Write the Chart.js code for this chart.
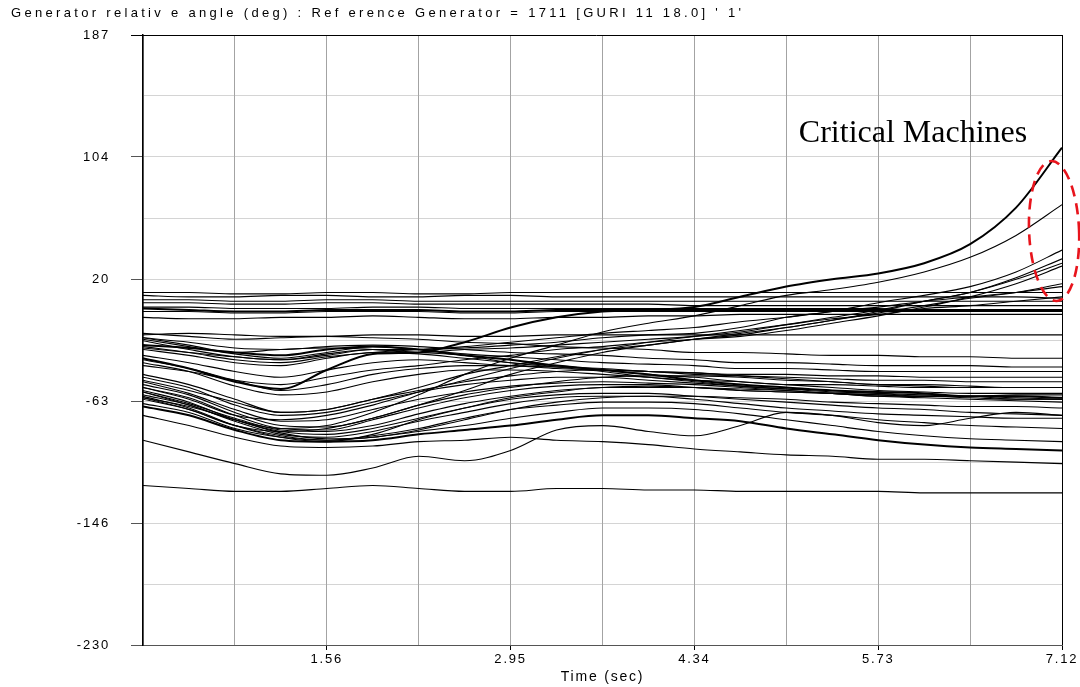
<!DOCTYPE html>
<html>
<head>
<meta charset="utf-8">
<script src="https://cdn.jsdelivr.net/npm/chart.js@4.4.1/dist/chart.umd.min.js"></script>
<style>
body { margin: 0; background: #fff; }
#box { width: 1080px; height: 687px; }
</style>
</head>
<body>
<div id="box"><canvas id="angleChart" width="1080" height="687"></canvas></div>
<script>
var chartTitle = "Generator relativ e angle (deg) : Ref erence Generator = 1711 [GURI 11 18.0] ' 1'";
var noteText = "Critical Machines";

// time samples (sec)
var times = [0.17, 0.5175, 0.865, 1.2125, 1.56, 1.9075, 2.255, 2.6025, 2.95, 3.2975, 3.645,
             3.9925, 4.34, 4.6875, 5.035, 5.3825, 5.73, 6.0775, 6.425, 6.7725, 7.12];

var xTicks = [0.17, 0.865, 1.56, 2.255, 2.95, 3.645, 4.34, 5.035, 5.73, 6.425, 7.12];
var xTickLabels = ['', '', '1.56', '', '2.95', '', '4.34', '', '5.73', '', '7.12'];
var yTicks = [-230, -188.3, -146.6, -104.9, -63.2, -21.5, 20.2, 61.9, 103.6, 145.3, 187];
var yTickLabels = ['-230', '', '-146', '', '-63', '', '20', '', '104', '', '187'];

// top group, almost flat
var top1 = [11,11,10,10,11,11,10,10,11,11,11,11,11,11,11,11,11,11,11,11,11];
var top2 = [9,8,8,9,9,8,8,9,9,8,8,8,8,8,8,8,8,8,8,8,7];
var top3 = [6,6,5,5,6,6,5,5,5,5,5,5,5,5,5,5,5,5,5,5,5];
var top4 = [4,4,3,3,4,4,3,3,3,3,3,3,2,2,2,2,2,2,2,2,2];
var top5 = [1,1,0,0,0,1,1,0,0,0,0,0,0,0,0,0,0,-1,-1,-1,-1];
var top6 = [0,-1,-2,-2,-1,-1,-1,-2,-2,-1,-1,-1,-1,-1,-1,-1,-1,-1,-1,-1,-1];
var top7 = [-2,-2,-3,-3,-2,-2,-2,-3,-3,-2,-2,-2,-2,-2,-2,-2,-2,-2,-2,-2,-2];
var top8 = [-6,-7,-7,-6,-6,-5,-6,-7,-7,-6,-6,-5,-5,-4,-4,-4,-4,-4,-4,-4,-4];
var flat337 = [-18,-17,-18,-19,-19,-18,-18,-19,-19,-18,-18,-18,-18,-18,-18,-18,-18,-18,-18,-18,-18];

// critical machines (rising at the end)
var crit1 = [-34,-41,-50,-55,-42,-31,-30,-23,-13,-6,-2,-1,1,8,15,20,24,31,44,69,110];
var crit2 = [-57,-66,-76,-82,-80,-71,-59,-45,-34,-25,-16,-10,-5,2,9,13,18,25,35,50,71];
var crit3 = [-22,-28,-33,-35,-32,-28,-28,-27,-25,-23,-20,-18,-17,-13,-6,-2,4,9,15,25,40];
var crit4 = [-20,-25,-30,-28,-27,-28,-30,-28,-27,-25,-23,-21,-19,-16,-11,-6,-1,5,11,21,34];
var crit5 = [-45,-52,-62,-71,-69,-62,-54,-45,-39,-33,-28,-25,-21,-18,-13,-8,-2,5,11,20,31];
var crit6 = [-39,-43,-49,-52,-47,-42,-39,-35,-32,-28,-26,-23,-21,-19,-15,-10,-5,1,8,17,29];
var crit7 = [-61,-69,-80,-84,-82,-75,-66,-56,-45,-37,-30,-25,-21,-17,-13,-8,-3,2,7,11,17];
var crit8 = [-26,-30,-35,-37,-33,-30,-28,-26,-23,-20,-17,-15,-13,-9,-6,-2,1,5,8,11,15];
var crit9 = [-54,-62,-73,-76,-73,-66,-57,-49,-41,-34,-28,-23,-19,-15,-11,-7,-4,0,2,5,8];

// middle group
var mid1 = [-17,-19,-21,-20,-19,-20,-21,-23,-24,-26,-27,-28,-30,-30,-31,-32,-32,-33,-33,-34,-34];
var mid2 = [-20,-23,-27,-28,-26,-25,-26,-28,-30,-31,-32,-34,-35,-37,-37,-38,-39,-39,-39,-40,-40];
var mid3 = [-25,-27,-30,-32,-28,-26,-28,-32,-35,-39,-42,-45,-49,-52,-54,-56,-57,-58,-60,-60,-61];
var mid4 = [-27,-30,-33,-35,-31,-28,-30,-32,-37,-40,-43,-47,-50,-53,-55,-57,-58,-60,-60,-62,-62];
var mid5 = [-28,-32,-37,-39,-34,-30,-31,-34,-37,-39,-42,-45,-47,-50,-52,-54,-56,-57,-58,-58,-58];
var mid6 = [-21,-26,-31,-34,-30,-26,-28,-31,-33,-35,-37,-38,-39,-41,-41,-42,-43,-43,-43,-43,-43];
var mid7 = [-32,-37,-43,-47,-42,-37,-35,-37,-39,-40,-41,-43,-44,-45,-45,-46,-46,-47,-47,-47,-47];
var mid8 = [-35,-41,-49,-56,-52,-45,-41,-39,-39,-41,-42,-43,-45,-46,-47,-48,-49,-49,-50,-50,-50];
var mid9 = [-37,-43,-53,-59,-57,-50,-45,-42,-42,-43,-45,-47,-49,-50,-52,-52,-53,-54,-54,-54,-54];

// lower group (deep first swing)
var low1 = [-47,-54,-66,-73,-71,-64,-57,-52,-49,-47,-47,-49,-51,-53,-55,-56,-58,-59,-60,-60,-61];
var low2 = [-50,-58,-69,-77,-76,-69,-62,-57,-53,-51,-50,-51,-52,-54,-56,-58,-60,-61,-62,-63,-64];
var low3 = [-54,-61,-73,-82,-83,-76,-68,-61,-56,-53,-52,-52,-54,-56,-57,-58,-59,-60,-60,-59,-59];
var low4 = [-56,-64,-76,-84,-86,-82,-75,-68,-62,-59,-58,-58,-60,-62,-64,-66,-68,-69,-71,-72,-73];
var low5 = [-59,-66,-77,-86,-88,-84,-77,-71,-65,-61,-60,-60,-62,-65,-68,-70,-72,-73,-74,-75,-75];
var low6 = [-62,-69,-80,-87,-90,-87,-82,-75,-69,-66,-64,-64,-65,-68,-71,-73,-76,-78,-80,-81,-82];
var low7 = [-65,-71,-82,-88,-90,-88,-84,-80,-75,-71,-68,-68,-69,-72,-76,-80,-84,-87,-89,-90,-91];
var low8 = [-67,-73,-83,-90,-91,-90,-86,-83,-80,-76,-73,-73,-75,-77,-82,-86,-90,-93,-95,-96,-97];
var low10 = [-52,-59,-71,-80,-81,-75,-66,-59,-54,-50,-47,-46,-46,-47,-49,-50,-52,-52,-53,-54,-54];
var low11 = [-57,-65,-75,-83,-84,-80,-72,-65,-60,-56,-54,-53,-54,-55,-56,-58,-59,-60,-60,-61,-62];
var low12 = [-60,-68,-80,-88,-91,-86,-76,-68,-61,-57,-54,-54,-54,-56,-57,-58,-60,-60,-61,-62,-62];
var low13 = [-61,-67,-76,-85,-89,-88,-83,-76,-69,-64,-61,-60,-60,-61,-62,-64,-65,-66,-67,-67,-68];
var low14 = [-49,-56,-64,-71,-69,-62,-56,-50,-46,-43,-42,-43,-44,-46,-48,-50,-52,-53,-54,-54,-54];

// wavy bottom lines
var wave1 = [-90,-98,-106,-113,-114,-109,-101,-104,-97,-83,-80,-84,-87,-80,-71,-73,-78,-80,-75,-71,-73];
var wave2 = [-73,-80,-88,-94,-95,-94,-91,-90,-88,-90,-91,-93,-96,-98,-100,-101,-103,-103,-104,-105,-106];
var bottom = [-121,-123,-125,-125,-123,-121,-123,-125,-125,-123,-123,-124,-124,-125,-125,-125,-125,-126,-126,-126,-126];

var series = [top1, top2, top3, top4, top5, top6, top7, top8, flat337,
              crit1, crit2, crit3, crit4, crit5, crit6, crit7, crit8, crit9,
              mid1, mid2, mid3, mid4, mid5, mid6, mid7, mid8, mid9,
              low1, low2, low3, low4, low5, low6, low7, low8, low10, low11, low12, low13, low14,
              wave1, wave2, bottom];
var thick = [crit1, top6, mid3, low8];

// callout position in data units
var noteAt = { t: 5.13, deg: 114 };
var ringAt = { t: 7.06, deg: 53 };

var datasets = series.map(function (s) {
    return {
        data: times.map(function (t, i) { return { x: t, y: s[i] }; }),
        borderColor: '#000',
        borderWidth: thick.indexOf(s) >= 0 ? 2 : 1.1,
        pointRadius: 0,
        fill: false,
        cubicInterpolationMode: 'monotone'
    };
});

var decorPlugin = {
    id: 'decor',
    beforeDraw: function (chart) {
        chart.ctx.letterSpacing = '1.8px';
    },
    beforeDatasetsDraw: function (chart) {
        chart.ctx.letterSpacing = '0px';
    },
    afterDraw: function (chart) {
        var ctx = chart.ctx, a = chart.chartArea;
        var xs = chart.scales.x, ys = chart.scales.y;
        ctx.save();
        // frame top line
        ctx.strokeStyle = '#000';
        ctx.lineWidth = 1;
        ctx.beginPath();
        ctx.moveTo(a.left - 12, a.top + 0.5);
        ctx.lineTo(a.right, a.top + 0.5);
        ctx.stroke();

        // title
        ctx.font = '13px "Liberation Sans", Arial, sans-serif';
        ctx.fillStyle = '#000';
        ctx.textBaseline = 'middle';
        ctx.textAlign = 'left';
        ctx.letterSpacing = '0px';
        var w = ctx.measureText(chartTitle).width;
        ctx.letterSpacing = ((730 - w) / (chartTitle.length - 1)) + 'px';
        ctx.fillText(chartTitle, 11, 13);
        ctx.letterSpacing = '0px';

        // annotation
        ctx.font = '32px "Liberation Serif", "Times New Roman", serif';
        ctx.textBaseline = 'alphabetic';
        ctx.fillText(noteText, xs.getPixelForValue(noteAt.t), ys.getPixelForValue(noteAt.deg));

        ctx.strokeStyle = '#e8141c';
        ctx.lineWidth = 2.6;
        ctx.setLineDash([11, 7]);
        ctx.beginPath();
        ctx.ellipse(xs.getPixelForValue(ringAt.t), ys.getPixelForValue(ringAt.deg), 25, 70, -0.04, 0, Math.PI * 2);
        ctx.stroke();
        ctx.restore();
    }
};

new Chart(document.getElementById('angleChart'), {
    type: 'line',
    data: { datasets: datasets },
    plugins: [decorPlugin],
    options: {
        responsive: false,
        animation: false,
        devicePixelRatio: 1,
        layout: { padding: { top: 35, right: 18, left: 0, bottom: 0 } },
        plugins: {
            legend: { display: false },
            tooltip: { enabled: false },
            title: { display: false }
        },
        scales: {
            x: {
                type: 'linear',
                min: 0.17,
                max: 7.12,
                afterBuildTicks: function (axis) {
                    axis.ticks = xTicks.map(function (v) { return { value: v }; });
                },
                afterFit: function (axis) { axis.height = 42; },
                ticks: {
                    autoSkip: false,
                    maxRotation: 0,
                    padding: 2,
                    color: '#000',
                    font: { family: '"Liberation Sans", Arial, sans-serif', size: 13 },
                    callback: function (v, i) { return xTickLabels[i]; }
                },
                grid: {
                    color: function (c) { return c.index === xTicks.length - 1 ? '#000' : '#a3a3a3'; },
                    lineWidth: 1,
                    tickLength: 5,
                    tickColor: function (c) { return xTickLabels[c.index] ? '#000' : 'rgba(0,0,0,0)'; }
                },
                border: { color: '#555', width: 1 },
                title: {
                    display: true,
                    text: 'Time (sec)',
                    color: '#000',
                    font: { family: '"Liberation Sans", Arial, sans-serif', size: 14 },
                    padding: { top: 0, bottom: 1 }
                }
            },
            y: {
                type: 'linear',
                min: -230,
                max: 187,
                afterBuildTicks: function (axis) {
                    axis.ticks = yTicks.map(function (v) { return { value: v }; });
                },
                afterFit: function (axis) { axis.width = 143; },
                ticks: {
                    autoSkip: false,
                    padding: 21,
                    color: '#000',
                    font: { family: '"Liberation Sans", Arial, sans-serif', size: 13 },
                    callback: function (v, i) { return yTickLabels[i]; }
                },
                grid: {
                    color: '#a8a8a8',
                    lineWidth: 1,
                    tickLength: 12,
                    tickColor: function (c) { return yTickLabels[c.index] ? '#555' : 'rgba(0,0,0,0)'; }
                },
                border: { color: '#000', width: 1.5, dash: [1, 1] }
            }
        }
    }
});
</script>
</body>
</html>
